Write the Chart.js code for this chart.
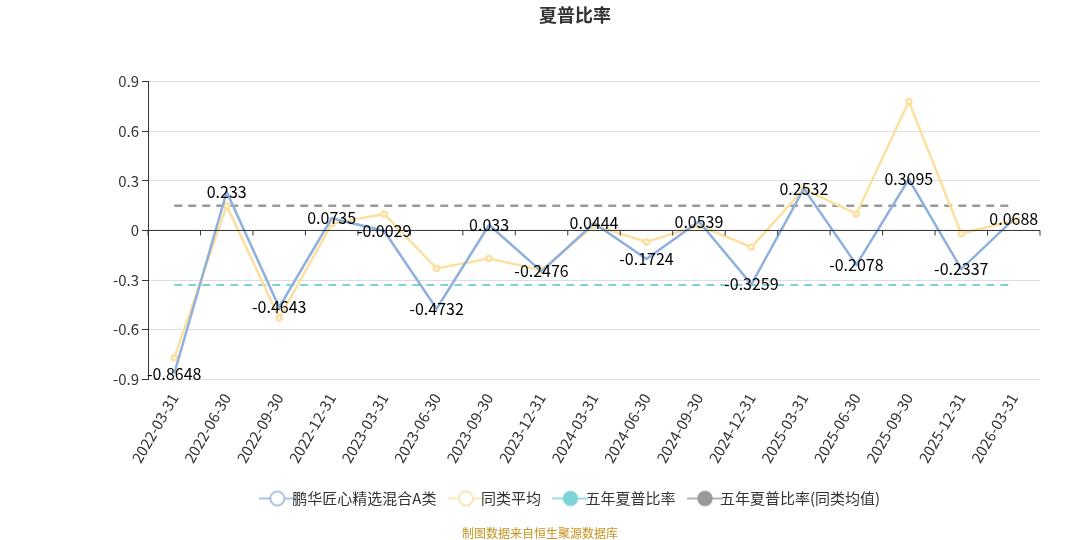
<!DOCTYPE html>
<html><head><meta charset="utf-8">
<script src="https://cdn.jsdelivr.net/npm/chart.js@4"></script>
<style>body{margin:0;background:#fff}#w{position:relative;width:1080px;height:540px}
#src{position:absolute;left:0;width:1080px;top:524px;text-align:center;font:12px 'Noto Sans CJK SC';color:#c8941e}</style>
</head><body><div id="w"><canvas id="c" width="1080" height="540"></canvas><div id="src">制图数据来自恒生聚源数据库</div></div>
<script>
const categories=['2022-03-31','2022-06-30','2022-09-30','2022-12-31','2023-03-31','2023-06-30','2023-09-30','2023-12-31','2024-03-31','2024-06-30','2024-09-30','2024-12-31','2025-03-31','2025-06-30','2025-09-30','2025-12-31','2026-03-31'];
const fundValues=[-0.8648,0.233,-0.4643,0.0735,-0.0029,-0.4732,0.033,-0.2476,0.0444,-0.1724,0.0539,-0.3259,0.2532,-0.2078,0.3095,-0.2337,0.0688];
const peerValues=[-0.77,0.15,-0.53,0.04,0.10,-0.23,-0.17,-0.24,0.03,-0.07,0.03,-0.10,0.25,0.10,0.78,-0.02,0.06];
const fiveYear=-0.33;
const fiveYearPeer=0.15;
const yTicks=[0.9,0.6,0.3,0,-0.3,-0.6,-0.9];
function icon(color,filled){const c=document.createElement('canvas');c.width=36;c.height=18;const g=c.getContext('2d');
g.strokeStyle=color;g.lineWidth=1.5;g.beginPath();g.moveTo(0,9);g.lineTo(36,9);g.stroke();
g.beginPath();g.arc(18,9,7,0,Math.PI*2);g.fillStyle=filled?color:'#fff';g.fill();g.stroke();return c;}
const icons=[icon('#8eb0dc',false),icon('#fbe0a0',false),icon('#7fd3d6',true),icon('#999',true)];
const labelsPlugin={id:'lbl',afterDatasetsDraw(ch){const {ctx,scales:{x,y}}=ch;ctx.save();
const y0=y.getPixelForValue(0);ctx.strokeStyle='#333';ctx.lineWidth=1;ctx.beginPath();ctx.moveTo(ch.chartArea.left,y0);ctx.lineTo(ch.chartArea.right,y0);ctx.stroke();
for(let i=0;i<=categories.length;i++){const px=ch.chartArea.left+(ch.chartArea.right-ch.chartArea.left)*i/categories.length;ctx.beginPath();ctx.moveTo(px,y0);ctx.lineTo(px,y0+5);ctx.stroke();}
ctx.font='16px "Noto Sans CJK SC", sans-serif';ctx.fillStyle='#000';ctx.textAlign='center';ctx.textBaseline='middle';
fundValues.forEach((v,i)=>{ctx.fillText(String(v),x.getPixelForValue(i),y.getPixelForValue(v));});ctx.restore();}};
new Chart(document.getElementById('c'),{type:'line',
data:{labels:categories,datasets:[
{label:'鹏华匠心精选混合A类',data:fundValues,borderColor:'#8eb0dc',borderWidth:2.5,pointRadius:0,tension:0},
{label:'同类平均',data:peerValues,borderColor:'#fbe0a0',borderWidth:2.5,pointRadius:2.5,pointBackgroundColor:'#fff',pointBorderColor:'#fbe0a0',tension:0},
{label:'五年夏普比率',data:categories.map(()=>fiveYear),borderColor:'#7fd3d6',borderDash:[8,6],borderWidth:2,pointRadius:0},
{label:'五年夏普比率(同类均值)',data:categories.map(()=>fiveYearPeer),borderColor:'#999',borderDash:[8,6],borderWidth:2.5,pointRadius:0}
]},
plugins:[labelsPlugin],
options:{responsive:false,animation:false,layout:{padding:{left:110,right:40,top:0,bottom:24}},
plugins:{title:{display:true,text:'夏普比率',font:{size:18,weight:'bold',family:'Noto Sans CJK SC'},color:'#333',padding:{top:4,bottom:56}},
legend:{position:'bottom',padding:{top:60,bottom:0},labels:{usePointStyle:true,font:{size:15,family:'Noto Sans CJK SC'},color:'#333',padding:22,
generateLabels(ch){return ch.data.datasets.map((d,i)=>({text:d.label,pointStyle:icons[i],fontColor:'#333',strokeStyle:d.borderColor,fillStyle:d.borderColor,lineWidth:0,hidden:false,datasetIndex:i}));}}},tooltip:{enabled:false}},
scales:{x:{offset:true,grid:{display:false},border:{display:false},ticks:{maxRotation:60,minRotation:60,font:{size:15,family:'Noto Sans CJK SC'},color:'#333'}},
y:{min:-0.9,max:0.9,afterBuildTicks(s){s.ticks=yTicks.map(v=>({value:v}));},grid:{color:'#ddd',tickLength:6,drawTicks:true,tickColor:'#333'},border:{display:true,color:'#333'},
ticks:{font:{size:15,family:'Noto Sans CJK SC'},color:'#333',callback:v=>String(v)}}}}});
</script></body></html>
